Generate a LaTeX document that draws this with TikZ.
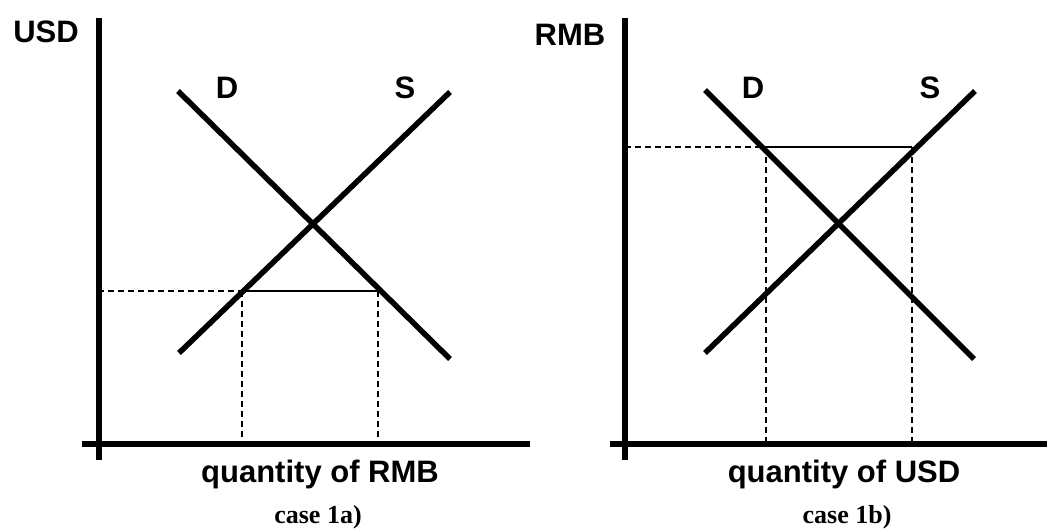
\documentclass[tikz,border=0pt]{standalone}
\usepackage{fontspec}
\setmainfont{Liberation Serif}
\newfontfamily\labfont{Liberation Sans}
\begin{document}
\begin{tikzpicture}[x=1pt,y=-1pt,
  axis/.style={line width=6pt},
  curve/.style={line width=5.5pt},
  guide/.style={line width=1.3pt},
  dguide/.style={line width=1.1pt,dash pattern=on 6pt off 4pt},
  lab/.style={font=\labfont\bfseries\fontsize{31}{31}\selectfont,inner sep=0pt,anchor=base},
  casetext/.style={font=\bfseries\fontsize{26}{26}\selectfont,inner sep=0pt,anchor=base}]
\useasboundingbox (0,0) rectangle (1047,528);
% ---- left panel ----
\coordinate (LyT) at (98.5,18);
\coordinate (LyB) at (98.5,460);
\coordinate (LxL) at (82,444);
\coordinate (LxR) at (530,444);
\coordinate (LD1) at (178,91);
\coordinate (LD2) at (450,359);
\coordinate (LS1) at (179,353);
\coordinate (LS2) at (450,92);
\coordinate (LpA) at (98,291);
\coordinate (LpB) at (242,291);
\coordinate (LpC) at (378,291);
\coordinate (LqB) at (242,444);
\coordinate (LqC) at (378,444);
\draw[axis] (LyT) -- (LyB);
\draw[axis] (LxL) -- (LxR);
\draw[curve] (LD1) -- (LD2);
\draw[curve] (LS1) -- (LS2);
\draw[dguide] (LpA) -- (LpB);
\draw[guide] (LpB) -- (LpC);
\draw[dguide] (LpB) -- (LqB);
\draw[dguide] (LpC) -- (LqC);
\node[lab] (usd) at (46,42) {USD};
\node[lab] (ld) at (227,98) {D};
\node[lab] (ls) at (405,98) {S};
\node[lab] (lq) at (320,482) {quantity of RMB};
\node[casetext] (lc) at (318,523) {case 1a)};
% ---- right panel ----
\coordinate (RyT) at (625,18);
\coordinate (RyB) at (625,460);
\coordinate (RxL) at (610,444);
\coordinate (RxR) at (1047,444);
\coordinate (RD1) at (705,90);
\coordinate (RD2) at (974,359);
\coordinate (RS1) at (705,353);
\coordinate (RS2) at (975,91);
\coordinate (RpA) at (625,147);
\coordinate (RpB) at (766,147);
\coordinate (RpC) at (912,147);
\coordinate (RqB) at (766,444);
\coordinate (RqC) at (912,444);
\draw[axis] (RyT) -- (RyB);
\draw[axis] (RxL) -- (RxR);
\draw[curve] (RD1) -- (RD2);
\draw[curve] (RS1) -- (RS2);
\draw[dguide] (RpA) -- (RpB);
\draw[guide] (RpB) -- (RpC);
\draw[dguide] (RpB) -- (RqB);
\draw[dguide] (RpC) -- (RqC);
\node[lab] (rmb) at (570,45) {RMB};
\node[lab] (rd) at (753,98) {D};
\node[lab] (rs) at (930,98) {S};
\node[lab] (rq) at (844,482) {quantity of USD};
\node[casetext] (rc) at (847,523) {case 1b)};
\end{tikzpicture}
\end{document}
